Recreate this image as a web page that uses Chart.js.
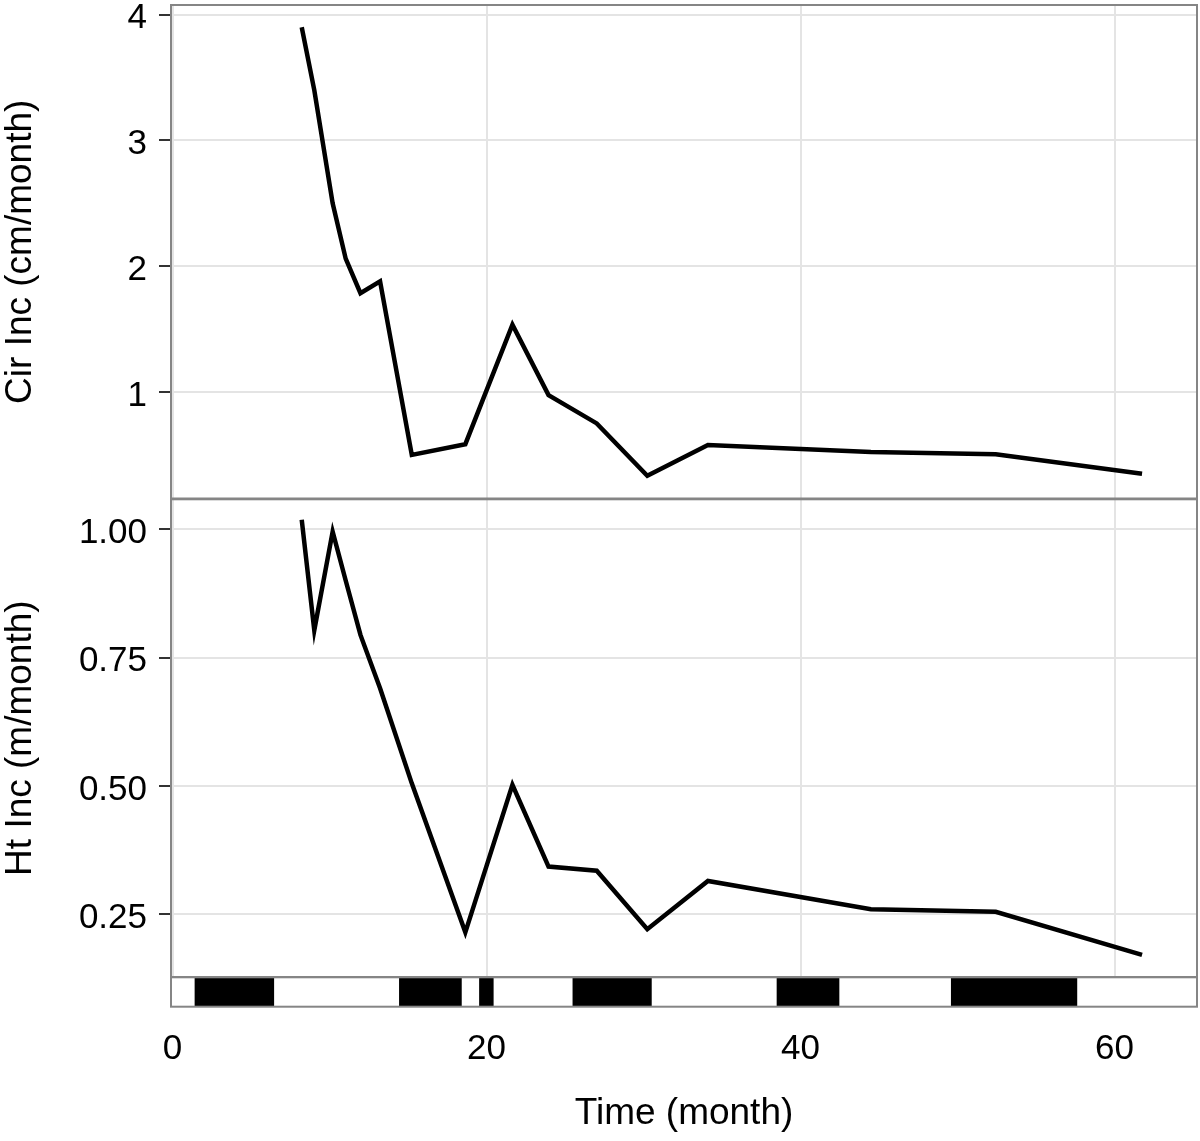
<!DOCTYPE html>
<html>
<head>
<meta charset="utf-8">
<script src="https://cdn.jsdelivr.net/npm/chart.js@4/dist/chart.umd.min.js"></script>
<style>
html, body { margin: 0; padding: 0; background: #ffffff; }
#wrap { position: relative; width: 1200px; height: 1141px; }
#wrap canvas { position: absolute; left: 0; top: 0; }
</style>
</head>
<body>
<div id="wrap">
  <canvas id="cTop" width="1200" height="1141"></canvas>
  <canvas id="cMid" width="1200" height="1141"></canvas>
  <canvas id="cStrip" width="1200" height="1141"></canvas>
</div>
<script>
// ---- data ----
const months = [8.23, 9.03, 10.2, 11.03, 11.97, 13.22, 15.24, 18.65, 21.65, 23.95, 27.02, 30.24, 34.1, 44.48, 52.43, 61.75];
const cirInc = [3.90, 3.40, 2.50, 2.06, 1.785, 1.88, 0.50, 0.585, 1.535, 0.975, 0.75, 0.333, 0.578, 0.522, 0.505, 0.35];
const htInc  = [1.018, 0.803, 0.995, 0.90, 0.794, 0.69, 0.505, 0.215, 0.502, 0.343, 0.335, 0.221, 0.315, 0.26, 0.255, 0.171];
const seasonStart = [1.43, 14.45, 19.55, 25.5, 38.5, 49.6];
const seasonEnd   = [6.45, 18.4, 20.43, 30.5, 42.45, 57.6];
const xTicks   = [0, 20, 40, 60];
const cirTicks = [1, 2, 3, 4];
const htTicks  = [0.25, 0.5, 0.75, 1.0];
const xTitle = 'Time (month)';
const cirTitle = 'Cir Inc (cm/month)';
const htTitle = 'Ht Inc (m/month)';

// ---- layout / style ----
const FONT = "'Liberation Sans', Arial, Helvetica, sans-serif";
Chart.defaults.font.family = FONT;
Chart.defaults.color = '#000000';
const W = 1200, H = 1141;
const LEFT = 171, RIGHT_PAD = 3;
const X_MIN = -0.096, X_MAX = 65.25;
const GRID = '#E4E4E4';
const TICK_SIZE = 35, TITLE_SIZE = 37;

const panelBorder = {
  id: 'panelBorder',
  afterDatasetsDraw(chart) {
    const a = chart.chartArea, ctx = chart.ctx;
    ctx.save();
    ctx.strokeStyle = '#858585';
    ctx.lineWidth = 2;
    ctx.strokeRect(a.left, a.top, a.right - a.left, a.bottom - a.top);
    ctx.restore();
  }
};

function noPad(s) {
  s.paddingTop = 0; s.paddingBottom = 0; s.paddingLeft = 0; s.paddingRight = 0;
}

function hiddenX() {
  return {
    type: 'linear', min: X_MIN, max: X_MAX,
    afterBuildTicks: s => { s.ticks = xTicks.map(v => ({ value: v })); },
    afterFit: s => { s.height = 0; noPad(s); },
    ticks: { display: false },
    grid: { color: GRID, lineWidth: 2, drawTicks: false },
    border: { display: false }
  };
}

function yScale(min, max, ticks, title, fmt) {
  return {
    type: 'linear', min: min, max: max,
    afterBuildTicks: s => { s.ticks = ticks.map(v => ({ value: v })); },
    afterFit: s => { s.width = LEFT; noPad(s); },
    ticks: { font: { size: TICK_SIZE }, color: '#000', padding: 12, labelOffset: 4, callback: fmt },
    grid: { color: GRID, lineWidth: 2, tickLength: 12, tickColor: '#333333', tickWidth: 2 },
    border: { display: false },
    title: { display: true, text: title, color: '#000', font: { size: TITLE_SIZE, lineHeight: 1.1 }, padding: { top: 0, bottom: 0 } }
  };
}

function lineChart(id, values, yOpts, top, bottom) {
  return new Chart(document.getElementById(id), {
    type: 'line',
    data: {
      datasets: [{
        data: months.map((m, i) => ({ x: m, y: values[i] })),
        borderColor: '#000000', borderWidth: 4.5, pointRadius: 0, tension: 0, fill: false
      }]
    },
    options: {
      responsive: false, animation: false, events: [],
      layout: { padding: { top: top, bottom: H - bottom, left: 0, right: RIGHT_PAD } },
      plugins: { legend: { display: false }, tooltip: { enabled: false } },
      scales: { x: hiddenX(), y: yOpts }
    },
    plugins: [panelBorder]
  });
}

lineChart('cTop', cirInc, yScale(0.153, 4.077, cirTicks, cirTitle, v => String(v)), 5, 498.5);
lineChart('cMid', htInc, yScale(0.128, 1.058, htTicks, htTitle, v => Number(v).toFixed(2)), 499.3, 977);

new Chart(document.getElementById('cStrip'), {
  type: 'bar',
  data: {
    labels: ['season'],
    datasets: [{
      data: seasonStart.map((s, i) => ({ x: [s, seasonEnd[i]], y: 'season' })),
      backgroundColor: '#000000', borderWidth: 0, barPercentage: 1, categoryPercentage: 1
    }]
  },
  options: {
    indexAxis: 'y',
    responsive: false, animation: false, events: [],
    layout: { padding: { top: 977.3, bottom: 0, left: LEFT, right: RIGHT_PAD } },
    plugins: { legend: { display: false }, tooltip: { enabled: false } },
    scales: {
      x: {
        type: 'linear', min: X_MIN, max: X_MAX,
        afterBuildTicks: s => { s.ticks = xTicks.map(v => ({ value: v })); },
        afterFit: s => { s.height = H - 1006.7; noPad(s); },
        ticks: { font: { size: TICK_SIZE }, color: '#000', padding: 22, maxRotation: 0, callback: v => String(v) },
        grid: { display: false, drawTicks: false },
        border: { display: false },
        title: { display: true, text: xTitle, color: '#000', font: { size: TITLE_SIZE, lineHeight: 1.2 }, padding: { top: 0, bottom: 5 } }
      },
      y: { type: 'category', display: false, afterFit: noPad }
    }
  },
  plugins: [panelBorder]
});
</script>
</body>
</html>
